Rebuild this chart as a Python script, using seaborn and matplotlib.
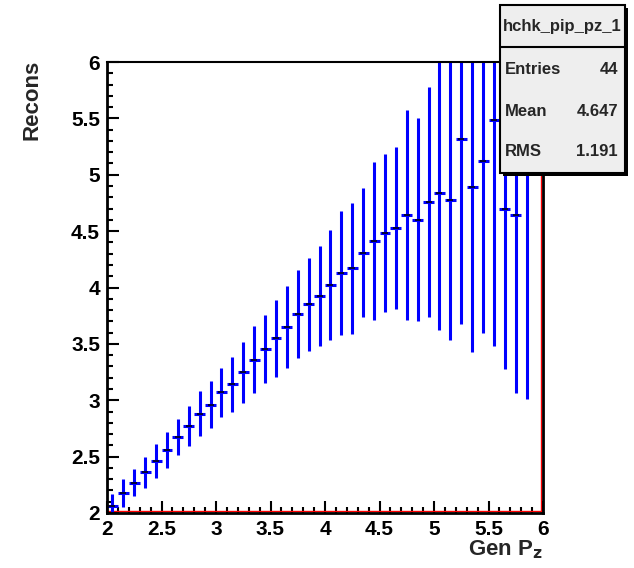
import numpy as np
import pandas as pd
import matplotlib
matplotlib.use("Agg")
import matplotlib.pyplot as plt
import seaborn as sns
from matplotlib.patches import Rectangle
from matplotlib.lines import Line2D
from matplotlib.ticker import MultipleLocator

# ---- data ----
gen_pz = [2.05, 2.15, 2.25, 2.35, 2.45, 2.55, 2.65, 2.75, 2.85, 2.95,
          3.05, 3.15, 3.25, 3.35, 3.45, 3.55, 3.65, 3.75, 3.85, 3.95,
          4.05, 4.15, 4.25, 4.35, 4.45, 4.55, 4.65, 4.75, 4.85, 4.95,
          5.05, 5.15, 5.25, 5.35, 5.45, 5.55, 5.65, 5.75, 5.85]
recons = [2.065, 2.18, 2.27, 2.36, 2.46, 2.56, 2.67, 2.77, 2.88, 2.96,
          3.07, 3.14, 3.25, 3.36, 3.455, 3.55, 3.65, 3.765, 3.85, 3.925,
          4.02, 4.13, 4.17, 4.31, 4.415, 4.48, 4.53, 4.64, 4.60, 4.76,
          4.84, 4.78, 5.32, 4.89, 5.12, 5.49, 4.70, 4.64, 5.40]
recons_err = [0.10, 0.125, 0.12, 0.14, 0.15, 0.16, 0.16, 0.18, 0.20, 0.21,
              0.22, 0.24, 0.27, 0.30, 0.30, 0.34, 0.36, 0.39, 0.41, 0.44,
              0.49, 0.55, 0.58, 0.57, 0.70, 0.70, 0.72, 0.93, 0.90, 1.02,
              1.22, 1.25, 1.64, 1.46, 1.52, 2.01, 1.42, 1.58, 2.39]
bin_half_width = 0.05

x_ticks = [2, 2.5, 3, 3.5, 4, 4.5, 5, 5.5, 6]
x_tick_labels = ["2", "2.5", "3", "3.5", "4", "4.5", "5", "5.5", "6"]
y_ticks = [2, 2.5, 3, 3.5, 4, 4.5, 5, 5.5, 6]
y_tick_labels = ["2", "2.5", "3", "3.5", "4", "4.5", "5", "5.5", "6"]
minor_step = 0.1

hist_name = "hchk_pip_pz_1"
stats_labels = ["Entries", "Mean", "RMS"]
stats_values = ["44", "4.647", "1.191"]

df = pd.DataFrame({"gen": gen_pz, "rec": recons, "err": recons_err})

# ---- figure ----
sns.set_style("ticks", {"xtick.direction": "in", "ytick.direction": "in"})
plt.rcParams["font.family"] = ["Liberation Sans", "DejaVu Sans"]
plt.rcParams["font.weight"] = "bold"

W, H = 634, 568
fig = plt.figure(figsize=(W / 100, H / 100), dpi=100)
ax = fig.add_axes([107 / W, 1 - 513 / H, (543 - 107) / W, (513 - 62) / H])

ax.errorbar(df["gen"], df["rec"], yerr=df["err"], xerr=bin_half_width,
            fmt="none", ecolor="#0000ff", elinewidth=2.2, capsize=0, zorder=2)
sns.scatterplot(data=df, x="gen", y="rec", ax=ax, marker="_", s=14,
                color="black", linewidth=1.1, zorder=3, legend=False)

ax.set_xlim(2, 6)
ax.set_ylim(2, 6)
ax.set_xlabel("")
ax.set_ylabel("")

for sp in ax.spines.values():
    sp.set_linewidth(2.0)
    sp.set_edgecolor("black")
ax.spines["top"].set_linewidth(1.5)

# red frame lines on bottom and right (inside)
ax.add_line(Line2D([0, 1], [0.004, 0.004], transform=ax.transAxes,
                   color="red", lw=1.0, zorder=1, clip_on=False))
ax.add_line(Line2D([0.996, 0.996], [0, 1], transform=ax.transAxes,
                   color="red", lw=1.0, zorder=1, clip_on=False))

# ---- ticks ----
ax.set_xticks(x_ticks)
ax.set_xticklabels(x_tick_labels)
ax.set_yticks(y_ticks)
ax.set_yticklabels(y_tick_labels)
ax.xaxis.set_minor_locator(MultipleLocator(minor_step))
ax.yaxis.set_minor_locator(MultipleLocator(minor_step))
ax.tick_params(which="both", direction="in", top=False, right=False,
               bottom=True, left=True, width=1.5, color="black")
ax.tick_params(which="major", length=8.6, labelsize=15, pad=5,
               labelcolor="black")
ax.tick_params(which="minor", length=4.3)

fig.text(543 / W, 1 - 550 / H, r"Gen P$_\mathbf{z}$", ha="right", va="center",
         fontsize=16, fontweight="bold")
fig.text(32 / W, 1 - 100 / H, "Recons", rotation=90, ha="center",
         va="center", fontsize=16, fontweight="bold")

# ---- stats box ----
def fx(px):
    return px / W

def fy(py):
    return 1 - py / H

bx0, bx1, by0, by1 = 500, 625, 5, 173
shadow = Rectangle((fx(bx0 + 3), fy(by1 + 3)), fx(bx1 - bx0), (by1 - by0) / H,
                   transform=fig.transFigure, facecolor="black",
                   edgecolor="none", zorder=9)
box = Rectangle((fx(bx0), fy(by1)), fx(bx1 - bx0), (by1 - by0) / H,
                transform=fig.transFigure, facecolor="#eeeeee",
                edgecolor="black", linewidth=1.5, zorder=10)
fig.add_artist(shadow)
fig.add_artist(box)
fig.add_artist(Line2D([fx(bx0), fx(bx1)], [fy(47), fy(47)],
                      transform=fig.transFigure, color="black", lw=1.5,
                      zorder=11))
fig.text(fx((bx0 + bx1) / 2), fy(26), hist_name, ha="center", va="center",
         fontsize=12, fontweight="bold", zorder=12)
rows_y = [70, 111, 152]
for lab, val, ry in zip(stats_labels, stats_values, rows_y):
    fig.text(fx(505), fy(ry), lab, ha="left", va="center", fontsize=12,
             fontweight="bold", zorder=12)
    fig.text(fx(618), fy(ry), val, ha="right", va="center", fontsize=12,
             fontweight="bold", zorder=12)

fig.savefig("out.png", dpi=100)
